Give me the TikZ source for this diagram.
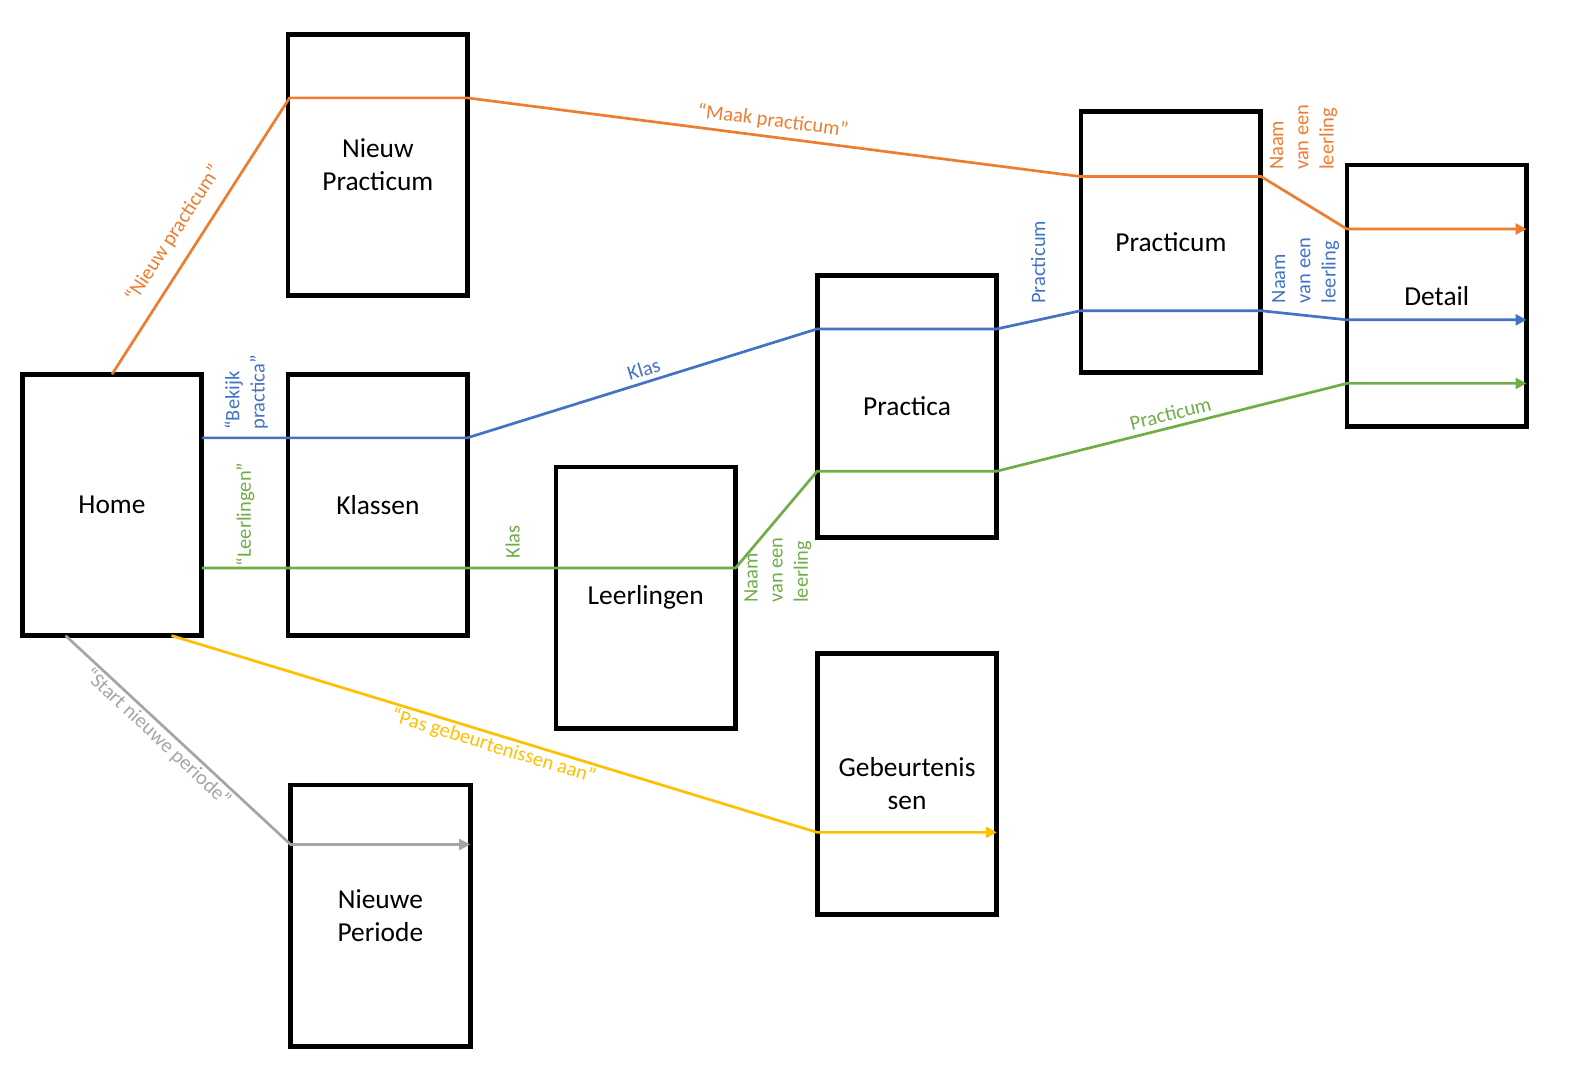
\documentclass[tikz,border=0pt]{standalone}
\usepackage{fontspec}
\setmainfont{Carlito}
\usetikzlibrary{arrows.meta}
\definecolor{cOrange}{HTML}{ED7D31}
\definecolor{cBlue}{HTML}{4472C4}
\definecolor{cGreen}{HTML}{70AD47}
\definecolor{cGray}{HTML}{A5A5A5}
\definecolor{cYellow}{HTML}{FFC000}
\begin{document}
\begin{tikzpicture}[x=0.50446pt,y=-0.50446pt,
  box/.style={draw=black,line width=2.4pt,minimum width=89.8pt,minimum height=130.7pt,
    inner sep=0pt,outer sep=0pt,align=center,font=\fontsize{13.7}{16.6}\selectfont},
  link/.style={line width=1.35pt,line join=round},
  tip/.style={-{Triangle[length=5.5pt,width=5.5pt]}},
  lbl/.style={inner sep=0pt,font=\fontsize{10.25}{12.6}\selectfont},
]
\useasboundingbox (0,0) rectangle (1568,1070);

% screens
\node[box] (npr)  at (374.5,163.5) {Nieuw\\Practicum};
\node[box] (home) at (111,500.5)   {Home};
\node[box] (kla)  at (374.5,500.5) {Klassen};
\node[box] (lln)  at (640,592.5)   {Leerlingen};
\node[box] (pra)  at (899,403)     {Practica};
\node[box] (prm)  at (1160.5,240)  {Practicum};
\node[box] (det)  at (1424,293)    {Detail};
\node[box] (geb)  at (899,777)     {Gebeurtenis\\sen};
\node[box] (nper) at (377,907.5)   {Nieuwe\\Periode};

% bend points of the routes
\coordinate (o1) at (287,97);   \coordinate (o2) at (463,97);
\coordinate (o3) at (1071,175); \coordinate (o4) at (1250,175);
\coordinate (o5) at (1335,227); \coordinate (o6) at (1513,227);

\coordinate (b0) at (200,434);  \coordinate (b1) at (463,434);
\coordinate (b2) at (810,326);  \coordinate (b3) at (988,326);
\coordinate (b4) at (1071,308); \coordinate (b5) at (1250,308);
\coordinate (b6) at (1335,317); \coordinate (b7) at (1513,317);

\coordinate (g0) at (200,563);  \coordinate (g1) at (729,563);
\coordinate (g2) at (810,467);  \coordinate (g3) at (988,467);
\coordinate (g4) at (1335,380); \coordinate (g5) at (1513,380);

\coordinate (s0) at (65,630);   \coordinate (s1) at (288,837);
\coordinate (s2) at (466,837);

\coordinate (y0) at (170,630);  \coordinate (y1) at (810,825);
\coordinate (y2) at (988,825);

% routes
\draw[link,cOrange,tip] (home.north) -- (o1) -- (o2) -- (o3) -- (o4) -- (o5) -- (o6);
\draw[link,cBlue,tip] (b0) -- (b1) -- (b2) -- (b3) -- (b4) -- (b5) -- (b6) -- (b7);
\draw[link,cGreen,tip] (g0) -- (g1) -- (g2) -- (g3) -- (g4) -- (g5);
\draw[link,cGray,tip] (s0) -- (s1) -- (s2);
\draw[link,cYellow,tip] (y0) -- (y1) -- (y2);

% route labels
\node[lbl,cOrange,rotate=57] (l1) at (172,232) {“Nieuw practicum”};
\node[lbl,cOrange,rotate=-7.3] (l2) at (766,120) {“Maak practicum”};
\node[lbl,cOrange,rotate=90,align=left] (l3) at (1292,136) {Naam\\van een\\leerling};

\node[lbl,cBlue,rotate=90,align=left] (l4) at (244,389) {“Bekijk\\practica”};
\node[lbl,cBlue,rotate=17] (l5) at (638,366) {Klas};
\node[lbl,cBlue,rotate=90] (l6) at (1029,260) {Practicum};
\node[lbl,cBlue,rotate=90,align=left] (l7) at (1294,268) {Naam\\van een\\leerling};

\node[lbl,cGreen,rotate=90] (l8) at (243,510) {“Leerlingen”};
\node[lbl,cGreen,rotate=90] (l9) at (508,537) {Klas};
\node[lbl,cGreen,rotate=90,align=left] (l10) at (771,565) {Naam\\van een\\leerling};
\node[lbl,cGreen,rotate=14] (l11) at (1160,410) {Practicum};

\node[lbl,cGray,rotate=-43] (l12) at (156,731) {“Start nieuwe periode”};
\node[lbl,cYellow,rotate=-17] (l13) at (489,740) {“Pas gebeurtenissen aan”};
\end{tikzpicture}
\end{document}
